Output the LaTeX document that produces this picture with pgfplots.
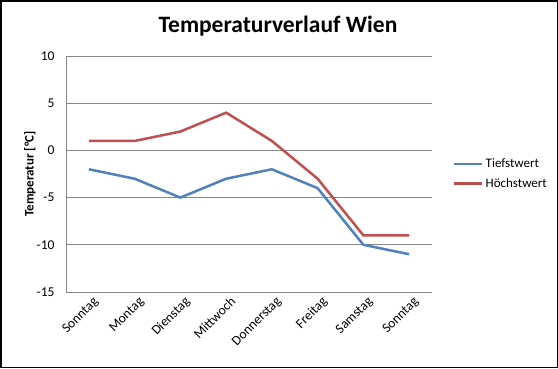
\documentclass[border=0pt]{standalone}
\usepackage{pgfplots}
\pgfplotsset{compat=1.18}
\usepackage{fontspec}
\setmainfont{Carlito}
\definecolor{serblue}{HTML}{4F81BD}
\definecolor{serred}{HTML}{C0504D}
\definecolor{gridgray}{HTML}{868686}
\begin{document}
\begin{tikzpicture}
\useasboundingbox (0,0) rectangle (558pt,368pt);
\draw[black, line width=1.5pt] (0.75pt,0.75pt) rectangle (557.25pt,367.25pt);
\node[font=\fontsize{23.5}{27}\selectfont\bfseries] at (278pt,342pt) {Temperaturverlauf Wien};
\begin{axis}[
  at={(66pt,76pt)}, anchor=south west,
  scale only axis, width=366pt, height=236pt,
  xmin=-0.5, xmax=7.5, ymin=-15, ymax=10,
  ytick={-15,-10,-5,0,5,10},
  xtick={0,...,7},
  xticklabels={Sonntag,Montag,Dienstag,Mittwoch,Donnerstag,Freitag,Samstag,Sonntag},
  xticklabel style={rotate=45, anchor=north east, inner sep=1pt, xshift=1pt, yshift=-4pt},
  yticklabel style={xshift=-8pt},
  ymajorgrids, grid style={gridgray, line width=1pt},
  axis x line*=bottom, axis y line*=left,
  axis line style={gridgray, line width=1pt, -},
  major tick length=0pt,
  tick label style={font=\fontsize{13.5}{15}\selectfont},
  /pgf/number format/assume math mode=true,
  ylabel={\bfseries Temperatur [°C]},
  ylabel style={font=\fontsize{13}{15}\selectfont, at={(ticklabel cs:0.5)}, anchor=south, yshift=-6pt},
  legend style={at={(384pt,118pt)}, anchor=west, draw=none, fill=none, font=\fontsize{13}{15}\selectfont, row sep=5pt},
  legend cell align=left,
  legend image code/.code={\draw[#1, line width=2.5pt] (0pt,0pt) -- (28pt,0pt);},
  clip=false,
]
\addplot[serblue, line width=2.5pt] coordinates {(0,-2) (1,-3) (2,-5) (3,-3) (4,-2) (5,-4) (6,-10) (7,-11)};
\addlegendentry{Tiefstwert}
\addplot[serred, line width=2.5pt] coordinates {(0,1) (1,1) (2,2) (3,4) (4,1) (5,-3) (6,-9) (7,-9)};
\addlegendentry{Höchstwert}
\end{axis}
\end{tikzpicture}
\end{document}
